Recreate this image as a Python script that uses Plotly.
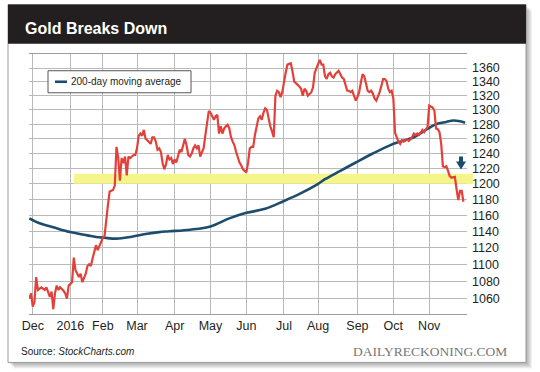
import math
import plotly.graph_objects as go

# ---------------- data ----------------
month_labels = ["Dec", "2016", "Feb", "Mar", "Apr", "May", "Jun", "Jul", "Aug", "Sep", "Oct", "Nov"]
month_start_session = [0, 22, 41, 61, 83, 104, 125, 147, 167, 190, 211, 232]

# Dec 2015 - Feb 2016 (sessions)
early_session = [-2, -1, 0, 1, 2, 3, 5, 7, 8, 10, 11, 12, 13, 14, 15, 16, 18, 19, 20, 21,
                 23, 24, 25, 27, 28, 29, 31, 32, 33, 34, 35, 36, 37, 38, 40,
                 41, 42, 43, 44, 45, 47, 48, 49, 50, 51, 52, 53, 54, 55, 56, 57, 59, 60]
early_close = [1060, 1066, 1051, 1056, 1085, 1070, 1073, 1070, 1073, 1062, 1068, 1048, 1066, 1075, 1070, 1073, 1069, 1066, 1060, 1075,
               1079, 1108, 1093, 1085, 1089, 1079, 1089, 1098, 1100, 1098, 1107, 1117, 1123, 1117, 1126,
               1132, 1134, 1156, 1173, 1190, 1192, 1198, 1249, 1234, 1204, 1234, 1227, 1236, 1211, 1236, 1234, 1238, 1238]

# Mar - Nov 2016, one value per session
close_mar = [1247, 1264, 1267, 1264, 1272, 1260, 1258, 1256, 1253, 1262, 1262, 1256, 1245, 1247, 1242, 1227, 1219, 1226, 1238, 1232, 1234, 1226]
close_apr = [1232, 1228, 1238, 1245, 1242, 1253, 1260, 1251, 1238, 1236, 1240, 1247, 1251, 1247, 1251, 1236, 1242, 1247, 1265, 1279, 1298]
close_may = [1296, 1291, 1286, 1291, 1293, 1267, 1277, 1267, 1274, 1277, 1279, 1274, 1262, 1256, 1251, 1242, 1234, 1228, 1224, 1219, 1217]
close_jun = [1215, 1228, 1247, 1249, 1249, 1265, 1277, 1288, 1291, 1286, 1296, 1302, 1300, 1286, 1277, 1270, 1262, 1320, 1327, 1325, 1318, 1325]
close_jul = [1341, 1353, 1365, 1366, 1367, 1355, 1340, 1338, 1336, 1333, 1330, 1320, 1330, 1327, 1320, 1323, 1325, 1332, 1353, 1360]
close_aug = [1365, 1372, 1365, 1365, 1348, 1344, 1351, 1353, 1348, 1346, 1351, 1353, 1356, 1351, 1346, 1344, 1334, 1327, 1327, 1325, 1327, 1318, 1313]
close_sep = [1318, 1325, 1339, 1351, 1348, 1339, 1327, 1325, 1327, 1323, 1316, 1313, 1318, 1325, 1334, 1344, 1344, 1341, 1330, 1325, 1327]
close_oct = [1316, 1268, 1262, 1256, 1253, 1258, 1256, 1258, 1259, 1257, 1260, 1262, 1267, 1265, 1267, 1265, 1268, 1272, 1269, 1273, 1276]
close_nov = [1306, 1304, 1303, 1299, 1274, 1273, 1269, 1253, 1223, 1222, 1223, 1217, 1210, 1208, 1209, 1209, 1193, 1179, 1191, 1191, 1177]

ma_session = [-2, 4, 12, 22, 32, 37, 42, 49, 57, 67, 74, 80, 92, 104, 115, 125, 136, 147, 157, 167,
              171, 180, 189, 199, 209, 215, 223, 230, 236, 242, 246, 250, 253]
ma_value = [1156, 1150, 1145, 1139, 1135, 1133, 1132, 1131, 1133, 1137, 1139, 1140, 1142, 1146, 1156, 1163, 1168, 1178, 1188, 1200,
            1206, 1217, 1228, 1240, 1251, 1256, 1262, 1272, 1280, 1283, 1285, 1284, 1282]

y_ticks = list(range(1060, 1361, 20))
support_low, support_high = 1200, 1213
support_start_session = 24
legend_label = "200-day moving average"

# ---------------- assemble series ----------------
late_months = [close_mar, close_apr, close_may, close_jun, close_jul, close_aug, close_sep, close_oct, close_nov]
session = list(early_session)
close = list(early_close)
for m, vals in enumerate(late_months):
    start = month_start_session[3 + m]
    session += list(range(start, start + len(vals)))
    close += vals

# ---------------- layout geometry ----------------
W, H = 540, 372
L, R, T, B = 29, 467, 54.3, 313.7
x_range = [-2.2, 254.1]
y_range = [math.log10(1042.5), math.log10(1380.8)]

def fx(p):  # pixel x -> paper
    return (p - L) / (R - L)

def fy(p):  # pixel y -> paper
    return (B - p) / (B - T)

def vy(v):  # value -> paper y (log axis)
    return (math.log10(v) - y_range[0]) / (y_range[1] - y_range[0])

RED = "#e4403a"
BLUE = "#1c4d6c"
GRID = "#b9b9b9"
FONT = "Liberation Sans, Arial, sans-serif"

fig = go.Figure()
fig.add_trace(go.Scatter(x=ma_session, y=ma_value, mode="lines", line=dict(color=BLUE, width=2.6, shape="spline"),
                         hoverinfo="skip", showlegend=False))
fig.add_trace(go.Scatter(x=session, y=close, mode="lines", line=dict(color=RED, width=2.2),
                         hoverinfo="skip", showlegend=False))

shapes = []
# card shadow
for k in range(1, 7):
    shapes.append(dict(type="rect", xref="paper", yref="paper", layer="below",
                       x0=fx(8 + k), x1=fx(526 + k), y0=fy(5 + k), y1=fy(362 + k),
                       fillcolor="rgba(0,0,0,0.055)", line=dict(width=0)))
# card
shapes.append(dict(type="rect", xref="paper", yref="paper", layer="below",
                   x0=fx(8), x1=fx(526), y0=fy(5), y1=fy(362),
                   fillcolor="white", line=dict(color="#9a9a9a", width=1)))
# title bar
shapes.append(dict(type="rect", xref="paper", yref="paper", layer="below",
                   x0=fx(8), x1=fx(526), y0=fy(5), y1=fy(44),
                   fillcolor="#231f20", line=dict(width=0)))
# support band (inside plot, between grid and traces)
shapes.append(dict(type="rect", xref="x", yref="y", layer="between",
                   x0=support_start_session, x1=x_range[1] + 5, y0=support_low, y1=support_high,
                   fillcolor="#f5f58c", line=dict(width=0)))
# support band extension past the plot edge
shapes.append(dict(type="rect", xref="paper", yref="paper", layer="below",
                   x0=1.0, x1=fx(473), y0=vy(support_low), y1=vy(support_high),
                   fillcolor="#f5f58c", line=dict(width=0)))
# legend box
shapes.append(dict(type="rect", xref="paper", yref="paper", layer="above",
                   x0=fx(48), x1=fx(191), y0=fy(71), y1=fy(93),
                   fillcolor="white", line=dict(color="#555555", width=1)))
shapes.append(dict(type="line", xref="paper", yref="paper", layer="above",
                   x0=fx(55), x1=fx(67), y0=fy(82), y1=fy(82),
                   line=dict(color=BLUE, width=2.6)))
# arrow
shapes.append(dict(type="path", xref="paper", yref="paper", layer="above",
                   xsizemode="pixel", ysizemode="pixel", xanchor=fx(461), yanchor=fy(165),
                   path="M -2 8.5 L 2 8.5 L 2 3.5 L 5 3.5 L 0 -4.5 L -5 3.5 L -2 3.5 Z",
                   fillcolor=BLUE, line=dict(width=0)))

annotations = [
    dict(text="<b>Gold Breaks Down</b>", xref="paper", yref="paper", x=fx(22.5), y=fy(28.5),
         xanchor="left", yanchor="middle", showarrow=False,
         font=dict(family=FONT, size=16, color="white")),
    dict(text=legend_label, xref="paper", yref="paper", x=fx(69), y=fy(82),
         xanchor="left", yanchor="middle", showarrow=False,
         font=dict(family=FONT, size=10, color="#231f20")),
    dict(text="Source: <i>StockCharts.com</i>", xref="paper", yref="paper", x=fx(19), y=fy(351),
         xanchor="left", yanchor="middle", showarrow=False,
         font=dict(family=FONT, size=10, color="#231f20")),
    dict(text="DAILYRECKONING.COM", xref="paper", yref="paper", x=fx(509), y=fy(351),
         xanchor="right", yanchor="middle", showarrow=False,
         font=dict(family="Liberation Serif, Times New Roman, serif", size=13.5, color="#777777")),
]

fig.update_layout(
    width=W, height=H,
    margin=dict(l=L, r=W - R, t=T, b=H - B, pad=0),
    paper_bgcolor="white", plot_bgcolor="rgba(0,0,0,0)",
    showlegend=False,
    shapes=shapes, annotations=annotations,
    font=dict(family=FONT, color="#231f20"),
    xaxis=dict(range=x_range, tickmode="array", tickvals=month_start_session, ticktext=month_labels,
               showgrid=True, gridcolor=GRID, gridwidth=1, zeroline=False,
               showline=True, mirror=True, linecolor="#9c9c9c", linewidth=1,
               ticks="", tickfont=dict(size=12.5, color="#231f20"), fixedrange=True),
    yaxis=dict(type="log", range=y_range, side="right", tickmode="array", tickvals=y_ticks,
               ticktext=[str(v) for v in y_ticks],
               showgrid=True, gridcolor=GRID, gridwidth=1, zeroline=False, showline=False,
               ticks="", ticklabelstandoff=4, tickfont=dict(size=12.5, color="#231f20"), fixedrange=True),
)

fig.write_html("out.html", config={"displayModeBar": False, "staticPlot": True},
               post_script="document.body.style.margin='0';")
